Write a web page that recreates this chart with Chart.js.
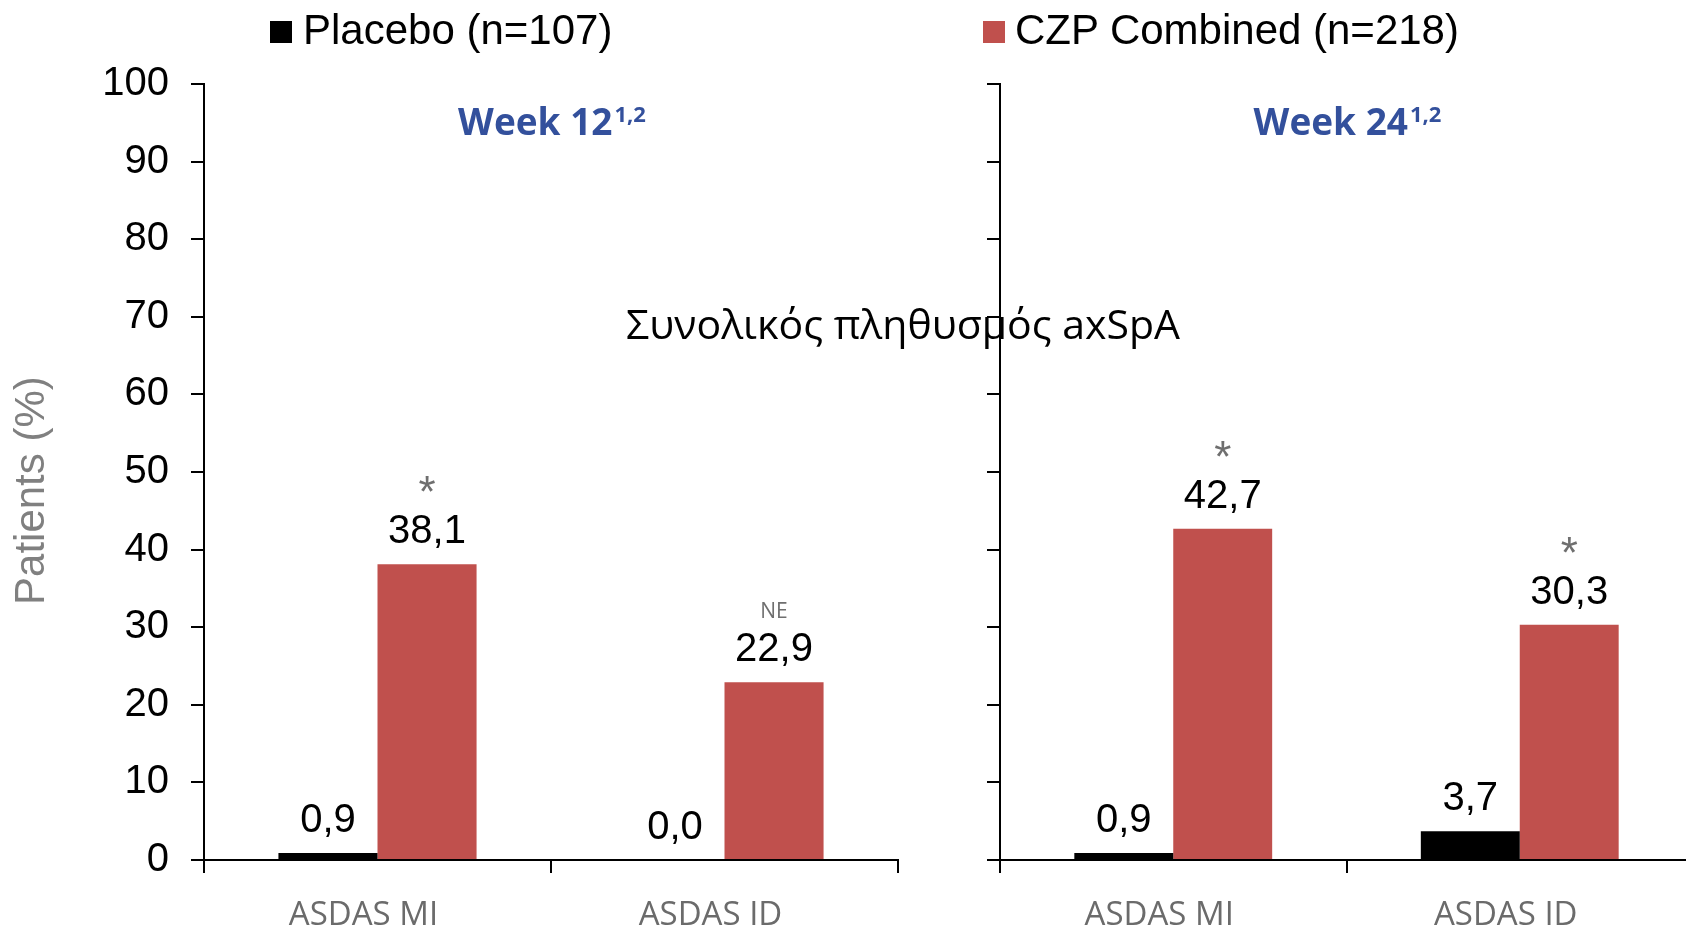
<!DOCTYPE html>
<html>
<head>
<meta charset="utf-8">
<script src="https://cdn.jsdelivr.net/npm/chart.js@4.4.1/dist/chart.umd.min.js"></script>
<style>
  html, body { margin: 0; padding: 0; width: 1686px; height: 927px; overflow: hidden; background: #fff; }
  #stage { position: relative; width: 1686px; height: 927px; overflow: hidden; }
  .panel { position: absolute; top: 0; height: 927px; }
  #panelA { left: 0; width: 910px; }
  #panelB { left: 920px; width: 785px; }
  .legend-item { position: absolute; top: 9px; height: 42px; line-height: 42px; white-space: nowrap;
                 font-family: "Liberation Sans", Arial, sans-serif; font-size: 42px; color: #000; }
  .legend-box { position: absolute; top: 12px; width: 22px; height: 22px; }
  #population { position: absolute; left: 553px; width: 700px; top: 297px; line-height: 52px; text-align: center;
                font-family: "Open Sans", "Noto Sans", sans-serif; font-size: 41px; color: #000; white-space: nowrap; z-index: 5; }
</style>
</head>
<body>
<div id="stage">
  <div class="panel" id="panelA"><canvas id="chartA"></canvas></div>
  <div class="panel" id="panelB"><canvas id="chartB"></canvas></div>
  <div id="legend"></div>
  <div id="population"></div>
</div>
<script>
// ---- data ----
const categories = ['ASDAS MI', 'ASDAS ID'];
const seriesNames = ['Placebo (n=107)', 'CZP Combined (n=218)'];
const seriesColors = ['#000000', '#C0504D'];

const week12Placebo = [0.9, 0.0];
const week12CZP = [38.1, 22.9];
const week24Placebo = [0.9, 3.7];
const week24CZP = [42.7, 30.3];

// significance notes shown above the CZP bars
const week12Notes = ['*', 'NE'];
const week24Notes = ['*', '*'];

const panelTitles = ['Week 12', 'Week 24'];
const titleRefs = '1,2';
const populationLabel = 'Συνολικός πληθυσμός axSpA';
const yAxisTitle = 'Patients (%)';

// ---- shared styling ----
const ARIAL = '"Liberation Sans", Arial, sans-serif';
const CALIBRI = '"Open Sans", "Noto Sans", sans-serif';
const TITLE_BLUE = '#33509C';

const fmt = v => v.toFixed(1).replace('.', ',');

// legend (spans both panels)
const legendLayout = [{ box: 270, text: 303 }, { box: 983, text: 1015 }];
const legendEl = document.getElementById('legend');
seriesNames.forEach((name, i) => {
  const box = document.createElement('div');
  box.className = 'legend-box';
  box.style.left = legendLayout[i].box + 'px';
  box.style.top = '21px';
  box.style.background = seriesColors[i];
  legendEl.appendChild(box);
  const txt = document.createElement('div');
  txt.className = 'legend-item';
  txt.style.left = legendLayout[i].text + 'px';
  txt.textContent = name;
  legendEl.appendChild(txt);
});
document.getElementById('population').textContent = populationLabel;

// draws value labels, notes, the panel heading and (optionally) the y-axis caption
const panelDecor = {
  id: 'panelDecor',
  afterDatasetsDraw(chart, args, opts) {
    const ctx = chart.ctx;
    const area = chart.chartArea;
    ctx.save();
    chart.data.datasets.forEach((ds, di) => {
      const meta = chart.getDatasetMeta(di);
      meta.data.forEach((bar, i) => {
        const v = ds.data[i];
        const ly = bar.y - 32;
        ctx.font = '40px ' + ARIAL;
        ctx.fillStyle = '#000';
        ctx.textAlign = 'center';
        ctx.textBaseline = 'middle';
        ctx.fillText(fmt(v), bar.x, ly);
        const note = di === 1 && opts.notes ? opts.notes[i] : null;
        if (note) {
          const isStar = note === '*';
          ctx.font = isStar ? '44px ' + ARIAL : '21px ' + CALIBRI;
          ctx.fillStyle = '#6f6f6f';
          ctx.textBaseline = 'alphabetic';
          const m = ctx.measureText(note);
          const cy = ly - (isStar ? 48 : 40);
          const base = cy + (m.actualBoundingBoxAscent - m.actualBoundingBoxDescent) / 2;
          ctx.fillText(note, bar.x, base);
        }
      });
    });
    // heading with superscript references
    const cx = (area.left + area.right) / 2;
    ctx.fillStyle = TITLE_BLUE;
    ctx.textAlign = 'left';
    ctx.textBaseline = 'alphabetic';
    const mainFont = 'bold 37px ' + CALIBRI;
    const supFont = 'bold 22px ' + CALIBRI;
    ctx.font = mainFont;
    const wMain = ctx.measureText(opts.title).width;
    ctx.font = supFont;
    const wSup = ctx.measureText(titleRefs).width;
    const x0 = cx - (wMain + wSup + 2) / 2 + 1;
    ctx.font = mainFont;
    ctx.fillText(opts.title, x0, area.top + 51);
    ctx.font = supFont;
    ctx.fillText(titleRefs, x0 + wMain + 2, area.top + 38);
    // rotated y-axis caption
    if (opts.yCaption) {
      ctx.save();
      ctx.translate(32, area.top + (area.bottom - area.top) * 0.524);
      ctx.rotate(-Math.PI / 2);
      ctx.font = '42px ' + ARIAL;
      ctx.fillStyle = '#808080';
      ctx.textAlign = 'center';
      ctx.textBaseline = 'middle';
      ctx.fillText(opts.yCaption, 0, 0);
      ctx.restore();
    }
    ctx.restore();
  }
};

function makePanel(canvasId, placebo, czp, notes, title, withYLabels, yWidth) {
  return new Chart(document.getElementById(canvasId), {
    type: 'bar',
    data: {
      labels: categories,
      datasets: [
        { label: seriesNames[0], data: placebo, backgroundColor: seriesColors[0], borderWidth: 0 },
        { label: seriesNames[1], data: czp, backgroundColor: seriesColors[1], borderWidth: 0 }
      ]
    },
    options: {
      responsive: true,
      maintainAspectRatio: false,
      animation: false,
      devicePixelRatio: 1,
      datasets: { bar: { categoryPercentage: 0.571, barPercentage: 1.0 } },
      layout: { padding: { top: 84, right: 12, left: 0, bottom: 0 } },
      plugins: {
        legend: { display: false },
        tooltip: { enabled: false },
        panelDecor: { notes: notes, title: title, yCaption: withYLabels ? yAxisTitle : null }
      },
      scales: {
        x: {
          grid: { display: true, offset: true, drawOnChartArea: false, drawTicks: true, tickLength: 13, color: '#000', lineWidth: 2 },
          border: { display: true, color: '#000', width: 2 },
          ticks: { color: '#6b6b6b', font: { family: CALIBRI, size: 33 }, padding: 23, labelOffset: -14, maxRotation: 0, autoSkip: false },
          afterFit(scale) { scale.height = 67; }
        },
        y: {
          min: 0, max: 100,
          grid: { display: true, drawOnChartArea: false, drawTicks: true, tickLength: 13, color: '#000', lineWidth: 2 },
          border: { display: true, color: '#000', width: 2 },
          ticks: { display: withYLabels, stepSize: 10, color: '#000', font: { family: ARIAL, size: 40 }, padding: 22 },
          afterFit(scale) { scale.width = yWidth; }
        }
      }
    },
    plugins: [panelDecor]
  });
}

makePanel('chartA', week12Placebo, week12CZP, week12Notes, panelTitles[0], true, 204);
makePanel('chartB', week24Placebo, week24CZP, week24Notes, panelTitles[1], false, 80);
</script>
</body>
</html>
